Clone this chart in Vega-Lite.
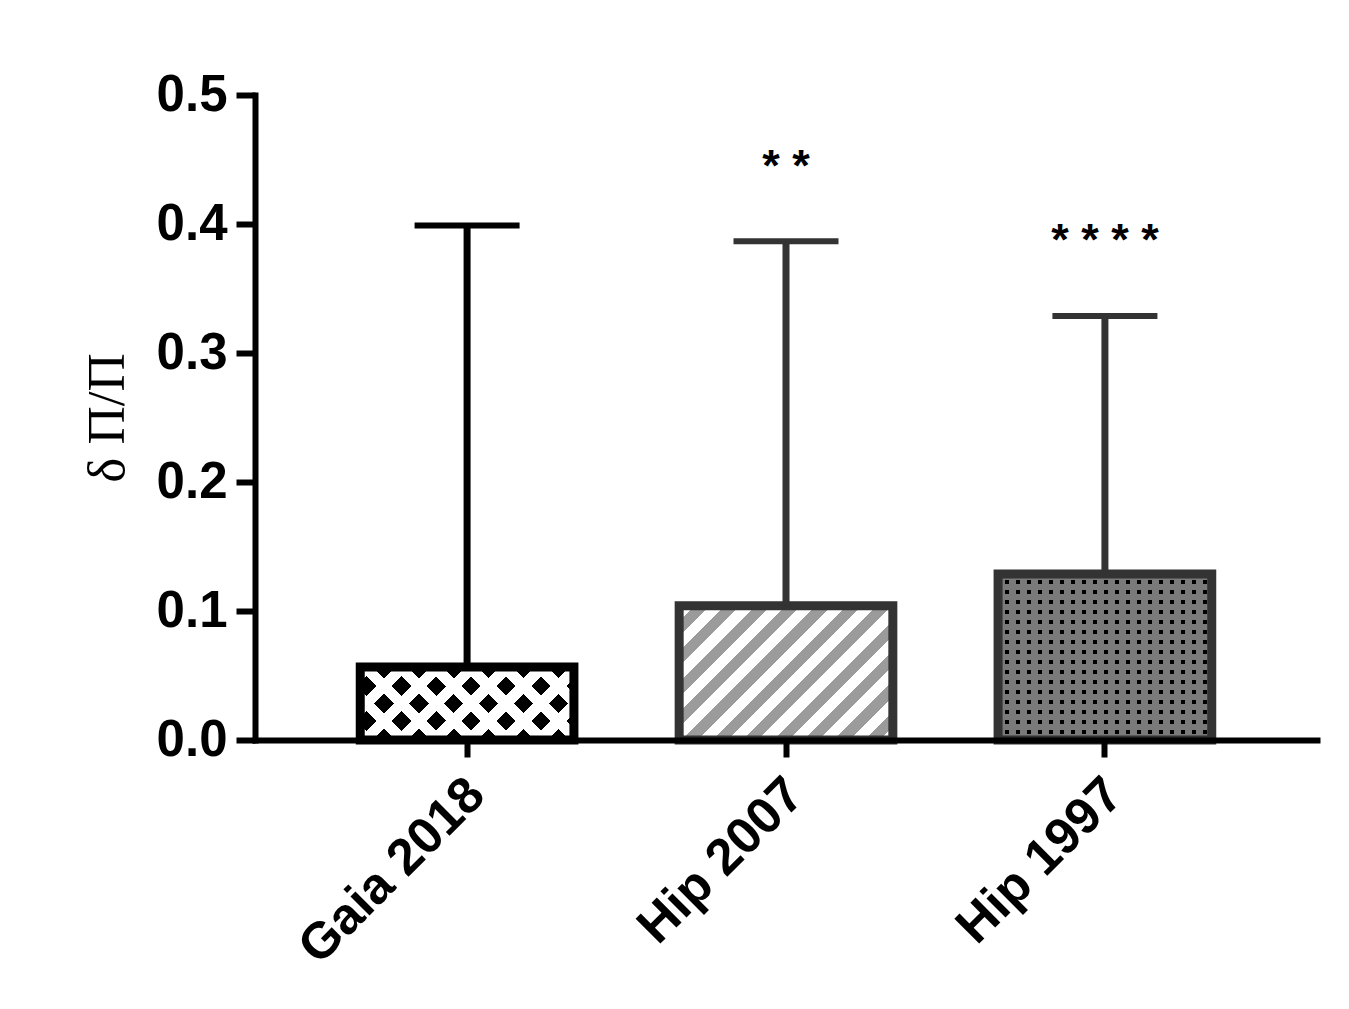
{
  "$schema": "https://vega.github.io/schema/vega-lite/v6.json",
  "width": 1062,
  "height": 645,
  "autosize": {"type": "none"},
  "padding": {"left": 255, "top": 95, "right": 32, "bottom": 269},
  "background": "white",
  "config": {"view": {"stroke": null}},
  "data": {
    "values": [
      {"source": "Gaia 2018", "mean": 0.0566, "upper": 0.3988, "sig": "", "sigY": 0.444},
      {"source": "Hip 2007", "mean": 0.104, "upper": 0.3866, "sig": "* *", "sigY": 0.444},
      {"source": "Hip 1997", "mean": 0.1287, "upper": 0.3287, "sig": "* * * *", "sigY": 0.387}
    ]
  },
  "encoding": {
    "x": {
      "field": "source", "type": "nominal", "sort": null,
      "scale": {"paddingInner": 0.33, "paddingOuter": 0.33},
      "axis": {
        "title": null, "labelAngle": -45, "labelFont": "Liberation Sans", "labelFontWeight": "bold", "labelLimit": 0,
        "labelFontSize": 51, "labelColor": "black", "domainColor": "black", "domainWidth": 6, "domainCap": "square",
        "tickColor": "black", "tickWidth": 6, "tickSize": 17, "labelPadding": 12, "labelOffset": -8, "zindex": 1
      }
    }
  },
  "layer": [
    {
      "transform": [{"filter": "datum.source === 'Gaia 2018'"}],
      "mark": {"type": "bar", "fill": {"gradient": "linear", "x1": 0, "y1": 0, "x2": 1.2014, "y2": 0.4105, "stops": [
        {"offset": 0, "color": "white"}, {"offset": 0.0548, "color": "white"}, {"offset": 0.0548, "color": "black"}, {"offset": 0.1218, "color": "black"},
        {"offset": 0.1218, "color": "white"}, {"offset": 0.1766, "color": "white"}, {"offset": 0.1766, "color": "black"}, {"offset": 0.2437, "color": "black"},
        {"offset": 0.2437, "color": "white"}, {"offset": 0.2985, "color": "white"}, {"offset": 0.2985, "color": "black"}, {"offset": 0.3655, "color": "black"},
        {"offset": 0.3655, "color": "white"}, {"offset": 0.4203, "color": "white"}, {"offset": 0.4203, "color": "black"}, {"offset": 0.4874, "color": "black"},
        {"offset": 0.4874, "color": "white"}, {"offset": 0.5422, "color": "white"}, {"offset": 0.5422, "color": "black"}, {"offset": 0.6092, "color": "black"},
        {"offset": 0.6092, "color": "white"}, {"offset": 0.6640, "color": "white"}, {"offset": 0.6640, "color": "black"}, {"offset": 0.7310, "color": "black"},
        {"offset": 0.7310, "color": "white"}, {"offset": 0.7858, "color": "white"}, {"offset": 0.7858, "color": "black"}, {"offset": 0.8529, "color": "black"},
        {"offset": 0.8529, "color": "white"}, {"offset": 0.9077, "color": "white"}, {"offset": 0.9077, "color": "black"}, {"offset": 0.9747, "color": "black"},
        {"offset": 0.9747, "color": "white"}, {"offset": 1, "color": "white"}
      ]}},
      "encoding": {
        "y": {
          "field": "mean", "type": "quantitative", "scale": {"domain": [0, 0.5], "nice": false},
          "axis": {
            "title": "δ Π/Π", "titleFont": "Liberation Serif", "titleFontWeight": "normal", "titleFontSize": 53,
            "titleColor": "black", "titlePadding": 22, "values": [0, 0.1, 0.2, 0.3, 0.4, 0.5], "format": ".1f",
            "labelFont": "Liberation Sans", "labelFontWeight": "bold", "labelFontSize": 51, "labelColor": "black",
            "labelPadding": 9, "domainColor": "black", "domainWidth": 6, "domainCap": "square", "tickColor": "black",
            "tickWidth": 6, "tickSize": 19, "grid": false, "zindex": 1
          }
        }
      }
    },
    {
      "transform": [{"filter": "datum.source === 'Gaia 2018'"}],
      "mark": {"type": "bar", "stroke": "black", "strokeWidth": 9, "fill": {"gradient": "linear", "x1": 0, "y1": 1, "x2": 1.2014, "y2": 0.5895, "stops": [
        {"offset": 0, "color": "white"}, {"offset": 0.0548, "color": "white"}, {"offset": 0.0548, "color": "rgba(255,255,255,0)"}, {"offset": 0.1218, "color": "rgba(255,255,255,0)"},
        {"offset": 0.1218, "color": "white"}, {"offset": 0.1766, "color": "white"}, {"offset": 0.1766, "color": "rgba(255,255,255,0)"}, {"offset": 0.2437, "color": "rgba(255,255,255,0)"},
        {"offset": 0.2437, "color": "white"}, {"offset": 0.2985, "color": "white"}, {"offset": 0.2985, "color": "rgba(255,255,255,0)"}, {"offset": 0.3655, "color": "rgba(255,255,255,0)"},
        {"offset": 0.3655, "color": "white"}, {"offset": 0.4203, "color": "white"}, {"offset": 0.4203, "color": "rgba(255,255,255,0)"}, {"offset": 0.4874, "color": "rgba(255,255,255,0)"},
        {"offset": 0.4874, "color": "white"}, {"offset": 0.5422, "color": "white"}, {"offset": 0.5422, "color": "rgba(255,255,255,0)"}, {"offset": 0.6092, "color": "rgba(255,255,255,0)"},
        {"offset": 0.6092, "color": "white"}, {"offset": 0.6640, "color": "white"}, {"offset": 0.6640, "color": "rgba(255,255,255,0)"}, {"offset": 0.7310, "color": "rgba(255,255,255,0)"},
        {"offset": 0.7310, "color": "white"}, {"offset": 0.7858, "color": "white"}, {"offset": 0.7858, "color": "rgba(255,255,255,0)"}, {"offset": 0.8529, "color": "rgba(255,255,255,0)"},
        {"offset": 0.8529, "color": "white"}, {"offset": 0.9077, "color": "white"}, {"offset": 0.9077, "color": "rgba(255,255,255,0)"}, {"offset": 0.9747, "color": "rgba(255,255,255,0)"},
        {"offset": 0.9747, "color": "white"}, {"offset": 1, "color": "white"}
      ]}},
      "encoding": {"y": {"field": "mean", "type": "quantitative"}}
    },
    {
      "transform": [{"filter": "datum.source === 'Hip 2007'"}],
      "mark": {"type": "bar", "stroke": "#333333", "strokeWidth": 9, "fill": {"gradient": "linear", "x1": 0, "y1": 0, "x2": 1.1676, "y2": 0.7331, "stops": [
        {"offset": 0, "color": "white"}, {"offset": 0.0437, "color": "white"}, {"offset": 0.0437, "color": "#9b9b9b"}, {"offset": 0.0874, "color": "#9b9b9b"},
        {"offset": 0.0874, "color": "white"}, {"offset": 0.1311, "color": "white"}, {"offset": 0.1311, "color": "#9b9b9b"}, {"offset": 0.1748, "color": "#9b9b9b"},
        {"offset": 0.1748, "color": "white"}, {"offset": 0.2185, "color": "white"}, {"offset": 0.2185, "color": "#9b9b9b"}, {"offset": 0.2622, "color": "#9b9b9b"},
        {"offset": 0.2622, "color": "white"}, {"offset": 0.3059, "color": "white"}, {"offset": 0.3059, "color": "#9b9b9b"}, {"offset": 0.3496, "color": "#9b9b9b"},
        {"offset": 0.3496, "color": "white"}, {"offset": 0.3934, "color": "white"}, {"offset": 0.3934, "color": "#9b9b9b"}, {"offset": 0.4371, "color": "#9b9b9b"},
        {"offset": 0.4371, "color": "white"}, {"offset": 0.4808, "color": "white"}, {"offset": 0.4808, "color": "#9b9b9b"}, {"offset": 0.5245, "color": "#9b9b9b"},
        {"offset": 0.5245, "color": "white"}, {"offset": 0.5682, "color": "white"}, {"offset": 0.5682, "color": "#9b9b9b"}, {"offset": 0.6119, "color": "#9b9b9b"},
        {"offset": 0.6119, "color": "white"}, {"offset": 0.6556, "color": "white"}, {"offset": 0.6556, "color": "#9b9b9b"}, {"offset": 0.6993, "color": "#9b9b9b"},
        {"offset": 0.6993, "color": "white"}, {"offset": 0.7430, "color": "white"}, {"offset": 0.7430, "color": "#9b9b9b"}, {"offset": 0.7867, "color": "#9b9b9b"},
        {"offset": 0.7867, "color": "white"}, {"offset": 0.8304, "color": "white"}, {"offset": 0.8304, "color": "#9b9b9b"}, {"offset": 0.8741, "color": "#9b9b9b"},
        {"offset": 0.8741, "color": "white"}, {"offset": 0.9178, "color": "white"}, {"offset": 0.9178, "color": "#9b9b9b"}, {"offset": 0.9615, "color": "#9b9b9b"},
        {"offset": 0.9615, "color": "white"}, {"offset": 1, "color": "white"}
      ]}},
      "encoding": {"y": {"field": "mean", "type": "quantitative"}}
    },
    {
      "transform": [{"filter": "datum.source === 'Hip 1997'"}],
      "mark": {"type": "bar", "fill": {"gradient": "linear", "x1": 0, "y1": 0, "x2": 0, "y2": 1, "stops": [
        {"offset": 0, "color": "#7a7a7a"}, {"offset": 0.0391, "color": "#7a7a7a"}, {"offset": 0.0391, "color": "black"}, {"offset": 0.0602, "color": "black"},
        {"offset": 0.0602, "color": "#7a7a7a"}, {"offset": 0.0994, "color": "#7a7a7a"}, {"offset": 0.0994, "color": "black"}, {"offset": 0.1205, "color": "black"},
        {"offset": 0.1205, "color": "#7a7a7a"}, {"offset": 0.1596, "color": "#7a7a7a"}, {"offset": 0.1596, "color": "black"}, {"offset": 0.1807, "color": "black"},
        {"offset": 0.1807, "color": "#7a7a7a"}, {"offset": 0.2198, "color": "#7a7a7a"}, {"offset": 0.2198, "color": "black"}, {"offset": 0.2409, "color": "black"},
        {"offset": 0.2409, "color": "#7a7a7a"}, {"offset": 0.2801, "color": "#7a7a7a"}, {"offset": 0.2801, "color": "black"}, {"offset": 0.3012, "color": "black"},
        {"offset": 0.3012, "color": "#7a7a7a"}, {"offset": 0.3403, "color": "#7a7a7a"}, {"offset": 0.3403, "color": "black"}, {"offset": 0.3614, "color": "black"},
        {"offset": 0.3614, "color": "#7a7a7a"}, {"offset": 0.4005, "color": "#7a7a7a"}, {"offset": 0.4005, "color": "black"}, {"offset": 0.4216, "color": "black"},
        {"offset": 0.4216, "color": "#7a7a7a"}, {"offset": 0.4607, "color": "#7a7a7a"}, {"offset": 0.4607, "color": "black"}, {"offset": 0.4818, "color": "black"},
        {"offset": 0.4818, "color": "#7a7a7a"}, {"offset": 0.5210, "color": "#7a7a7a"}, {"offset": 0.5210, "color": "black"}, {"offset": 0.5421, "color": "black"},
        {"offset": 0.5421, "color": "#7a7a7a"}, {"offset": 0.5812, "color": "#7a7a7a"}, {"offset": 0.5812, "color": "black"}, {"offset": 0.6023, "color": "black"},
        {"offset": 0.6023, "color": "#7a7a7a"}, {"offset": 0.6414, "color": "#7a7a7a"}, {"offset": 0.6414, "color": "black"}, {"offset": 0.6625, "color": "black"},
        {"offset": 0.6625, "color": "#7a7a7a"}, {"offset": 0.7017, "color": "#7a7a7a"}, {"offset": 0.7017, "color": "black"}, {"offset": 0.7228, "color": "black"},
        {"offset": 0.7228, "color": "#7a7a7a"}, {"offset": 0.7619, "color": "#7a7a7a"}, {"offset": 0.7619, "color": "black"}, {"offset": 0.7830, "color": "black"},
        {"offset": 0.7830, "color": "#7a7a7a"}, {"offset": 0.8221, "color": "#7a7a7a"}, {"offset": 0.8221, "color": "black"}, {"offset": 0.8432, "color": "black"},
        {"offset": 0.8432, "color": "#7a7a7a"}, {"offset": 0.8824, "color": "#7a7a7a"}, {"offset": 0.8824, "color": "black"}, {"offset": 0.9035, "color": "black"},
        {"offset": 0.9035, "color": "#7a7a7a"}, {"offset": 0.9426, "color": "#7a7a7a"}, {"offset": 0.9426, "color": "black"}, {"offset": 0.9637, "color": "black"},
        {"offset": 0.9637, "color": "#7a7a7a"}, {"offset": 1, "color": "#7a7a7a"}
      ]}},
      "encoding": {"y": {"field": "mean", "type": "quantitative"}}
    },
    {
      "transform": [{"filter": "datum.source === 'Hip 1997'"}],
      "mark": {"type": "bar", "stroke": "#333333", "strokeWidth": 9, "fill": {"gradient": "linear", "x1": 0, "y1": 0, "x2": 1, "y2": 0, "stops": [
        {"offset": 0, "color": "#7a7a7a"}, {"offset": 0.0327, "color": "#7a7a7a"}, {"offset": 0.0327, "color": "rgba(122,122,122,0)"}, {"offset": 0.0515, "color": "rgba(122,122,122,0)"},
        {"offset": 0.0515, "color": "#7a7a7a"}, {"offset": 0.0842, "color": "#7a7a7a"}, {"offset": 0.0842, "color": "rgba(122,122,122,0)"}, {"offset": 0.1030, "color": "rgba(122,122,122,0)"},
        {"offset": 0.1030, "color": "#7a7a7a"}, {"offset": 0.1357, "color": "#7a7a7a"}, {"offset": 0.1357, "color": "rgba(122,122,122,0)"}, {"offset": 0.1544, "color": "rgba(122,122,122,0)"},
        {"offset": 0.1544, "color": "#7a7a7a"}, {"offset": 0.1871, "color": "#7a7a7a"}, {"offset": 0.1871, "color": "rgba(122,122,122,0)"}, {"offset": 0.2059, "color": "rgba(122,122,122,0)"},
        {"offset": 0.2059, "color": "#7a7a7a"}, {"offset": 0.2386, "color": "#7a7a7a"}, {"offset": 0.2386, "color": "rgba(122,122,122,0)"}, {"offset": 0.2574, "color": "rgba(122,122,122,0)"},
        {"offset": 0.2574, "color": "#7a7a7a"}, {"offset": 0.2901, "color": "#7a7a7a"}, {"offset": 0.2901, "color": "rgba(122,122,122,0)"}, {"offset": 0.3089, "color": "rgba(122,122,122,0)"},
        {"offset": 0.3089, "color": "#7a7a7a"}, {"offset": 0.3416, "color": "#7a7a7a"}, {"offset": 0.3416, "color": "rgba(122,122,122,0)"}, {"offset": 0.3604, "color": "rgba(122,122,122,0)"},
        {"offset": 0.3604, "color": "#7a7a7a"}, {"offset": 0.3931, "color": "#7a7a7a"}, {"offset": 0.3931, "color": "rgba(122,122,122,0)"}, {"offset": 0.4118, "color": "rgba(122,122,122,0)"},
        {"offset": 0.4118, "color": "#7a7a7a"}, {"offset": 0.4445, "color": "#7a7a7a"}, {"offset": 0.4445, "color": "rgba(122,122,122,0)"}, {"offset": 0.4633, "color": "rgba(122,122,122,0)"},
        {"offset": 0.4633, "color": "#7a7a7a"}, {"offset": 0.4960, "color": "#7a7a7a"}, {"offset": 0.4960, "color": "rgba(122,122,122,0)"}, {"offset": 0.5148, "color": "rgba(122,122,122,0)"},
        {"offset": 0.5148, "color": "#7a7a7a"}, {"offset": 0.5475, "color": "#7a7a7a"}, {"offset": 0.5475, "color": "rgba(122,122,122,0)"}, {"offset": 0.5663, "color": "rgba(122,122,122,0)"},
        {"offset": 0.5663, "color": "#7a7a7a"}, {"offset": 0.5990, "color": "#7a7a7a"}, {"offset": 0.5990, "color": "rgba(122,122,122,0)"}, {"offset": 0.6178, "color": "rgba(122,122,122,0)"},
        {"offset": 0.6178, "color": "#7a7a7a"}, {"offset": 0.6505, "color": "#7a7a7a"}, {"offset": 0.6505, "color": "rgba(122,122,122,0)"}, {"offset": 0.6692, "color": "rgba(122,122,122,0)"},
        {"offset": 0.6692, "color": "#7a7a7a"}, {"offset": 0.7019, "color": "#7a7a7a"}, {"offset": 0.7019, "color": "rgba(122,122,122,0)"}, {"offset": 0.7207, "color": "rgba(122,122,122,0)"},
        {"offset": 0.7207, "color": "#7a7a7a"}, {"offset": 0.7534, "color": "#7a7a7a"}, {"offset": 0.7534, "color": "rgba(122,122,122,0)"}, {"offset": 0.7722, "color": "rgba(122,122,122,0)"},
        {"offset": 0.7722, "color": "#7a7a7a"}, {"offset": 0.8049, "color": "#7a7a7a"}, {"offset": 0.8049, "color": "rgba(122,122,122,0)"}, {"offset": 0.8237, "color": "rgba(122,122,122,0)"},
        {"offset": 0.8237, "color": "#7a7a7a"}, {"offset": 0.8564, "color": "#7a7a7a"}, {"offset": 0.8564, "color": "rgba(122,122,122,0)"}, {"offset": 0.8752, "color": "rgba(122,122,122,0)"},
        {"offset": 0.8752, "color": "#7a7a7a"}, {"offset": 0.9079, "color": "#7a7a7a"}, {"offset": 0.9079, "color": "rgba(122,122,122,0)"}, {"offset": 0.9266, "color": "rgba(122,122,122,0)"},
        {"offset": 0.9266, "color": "#7a7a7a"}, {"offset": 0.9593, "color": "#7a7a7a"}, {"offset": 0.9593, "color": "rgba(122,122,122,0)"}, {"offset": 0.9781, "color": "rgba(122,122,122,0)"},
        {"offset": 0.9781, "color": "#7a7a7a"}, {"offset": 1, "color": "#7a7a7a"}
      ]}},
      "encoding": {"y": {"field": "mean", "type": "quantitative"}}
    },
    {
      "mark": {"type": "rule", "strokeWidth": 7},
      "encoding": {
        "y": {"field": "mean", "type": "quantitative"},
        "y2": {"field": "upper"},
        "color": {"field": "source", "type": "nominal", "scale": {"domain": ["Gaia 2018", "Hip 2007", "Hip 1997"], "range": ["black", "#333333", "#333333"]}, "legend": null}
      }
    },
    {
      "mark": {"type": "tick", "size": 105, "thickness": 6, "opacity": 1},
      "encoding": {
        "y": {"field": "upper", "type": "quantitative"},
        "color": {"field": "source", "type": "nominal", "legend": null}
      }
    },
    {
      "mark": {"type": "text", "font": "Liberation Sans", "fontWeight": "bold", "fontSize": 45, "color": "black", "align": "center", "baseline": "middle"},
      "encoding": {
        "y": {"field": "sigY", "type": "quantitative"},
        "text": {"field": "sig"}
      }
    }
  ]
}
